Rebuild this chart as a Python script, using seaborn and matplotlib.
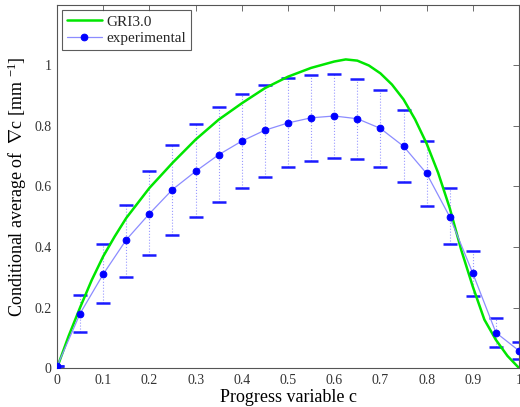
#!/usr/bin/env python3
import matplotlib
matplotlib.use("Agg")
import matplotlib.pyplot as plt
import seaborn as sns
import pandas as pd

c_exp = [0.0, 0.05, 0.1, 0.15, 0.2, 0.25, 0.3, 0.35, 0.4, 0.45, 0.5,
         0.55, 0.6, 0.65, 0.7, 0.75, 0.8, 0.85, 0.9, 0.95, 1.0]
grad_exp = [0.005, 0.18, 0.31, 0.424, 0.51, 0.59, 0.65, 0.705, 0.75, 0.786, 0.81,
            0.827, 0.833, 0.824, 0.792, 0.733, 0.643, 0.50, 0.313, 0.117, 0.057]
grad_upper = [0.005, 0.24, 0.41, 0.54, 0.65, 0.737, 0.808, 0.864, 0.907, 0.936, 0.96,
              0.97, 0.971, 0.954, 0.92, 0.853, 0.75, 0.595, 0.388, 0.165, 0.087]
grad_lower = [0.005, 0.12, 0.215, 0.30, 0.375, 0.44, 0.498, 0.549, 0.595, 0.633, 0.663,
              0.684, 0.694, 0.691, 0.665, 0.614, 0.536, 0.41, 0.238, 0.07, 0.029]

# GRI3.0 computed profile
c_gri = [0.0, 0.025, 0.05, 0.075, 0.1, 0.125, 0.15, 0.2, 0.25, 0.3, 0.35, 0.4, 0.45, 0.5,
         0.55, 0.6, 0.625, 0.65, 0.675, 0.7, 0.725, 0.75, 0.775, 0.8, 0.825, 0.85,
         0.875, 0.9, 0.925, 0.95, 0.975, 1.0]
grad_gri = [0.0, 0.105, 0.20, 0.29, 0.369, 0.435, 0.496, 0.595, 0.678, 0.755, 0.821, 0.875, 0.925,
            0.963, 0.992, 1.013, 1.02, 1.016, 1.0, 0.974, 0.937, 0.888, 0.822, 0.742, 0.645,
            0.529, 0.39, 0.269, 0.16, 0.093, 0.04, 0.0]

xticks = [0, 0.1, 0.2, 0.3, 0.4, 0.5, 0.6, 0.7, 0.8, 0.9, 1]
xticklabels = ["0", "0.1", "0.2", "0.3", "0.4", "0.5", "0.6", "0.7", "0.8", "0.9", "1"]
yticks = [0, 0.2, 0.4, 0.6, 0.8, 1]
yticklabels = ["0", "0.2", "0.4", "0.6", "0.8", "1"]

sns.set_theme(style="white")
plt.rcParams["font.family"] = ["Liberation Serif", "DejaVu Serif"]
plt.rcParams["mathtext.fontset"] = "custom"
plt.rcParams["mathtext.rm"] = "Liberation Serif"
plt.rcParams["mathtext.it"] = "Liberation Serif:italic"
plt.rcParams["xtick.direction"] = "in"
plt.rcParams["ytick.direction"] = "in"


def main():
    exp = pd.DataFrame({"c": c_exp, "g": grad_exp, "lo": grad_lower, "hi": grad_upper})
    gri = pd.DataFrame({"c": c_gri, "g": grad_gri})

    fig = plt.figure(figsize=(5.2, 4.07), dpi=100)
    ax = fig.add_axes([0.1096, 0.0958, 0.8885, 0.892])

    # error bars: dotted stems with solid caps
    ax.vlines(exp["c"], exp["lo"], exp["hi"], colors="#9999ff", linestyles=":", linewidth=0.8, zorder=1)
    ax.errorbar(exp["c"], exp["g"], yerr=[exp["g"] - exp["lo"], exp["hi"] - exp["g"]],
                fmt="none", ecolor="none", capsize=5, capthick=1.8, zorder=1)
    for line in ax.lines:
        line.set_color("#1a1aff")
        line.set_markeredgecolor("#1a1aff")

    sns.lineplot(data=gri, x="c", y="g", color="#00e600", linewidth=1.8, ax=ax,
                 label="GRI3.0", zorder=3)
    sns.lineplot(data=exp, x="c", y="g", color="#8c8cff", linewidth=0.9, marker="o",
                 markersize=4.8, markerfacecolor="#0000ff", markeredgecolor="#0000ff",
                 ax=ax, label="experimental", zorder=4)

    ax.set_xlim(0, 1)
    ax.set_ylim(0, 1.2)
    ax.set_xticks(xticks)
    ax.set_xticklabels(xticklabels)
    ax.set_yticks(yticks)
    ax.set_yticklabels(yticklabels)
    ax.tick_params(axis="both", which="both", top=True, right=True, length=4,
                   width=0.6, color="#555555", labelsize=10, labelcolor="#333333", pad=4)
    for s in ax.spines.values():
        s.set_color("#555555")
        s.set_linewidth(0.8)

    ax.set_xlabel("Progress variable c", fontsize=13, color="black", labelpad=2)
    ax.set_ylabel(r"Conditional average of  $\nabla$c [mm $^{-1}$]", fontsize=13,
                  color="black", labelpad=4)

    leg = ax.legend(loc="upper left", fontsize=11, frameon=True, fancybox=False,
                    borderaxespad=0.35, handlelength=2.3, labelspacing=0.2,
                    borderpad=0.3, handletextpad=0.3)
    leg.get_frame().set_edgecolor("#333333")
    leg.get_frame().set_linewidth(0.8)

    fig.savefig("out.png", dpi=100)


if __name__ == "__main__":
    main()
